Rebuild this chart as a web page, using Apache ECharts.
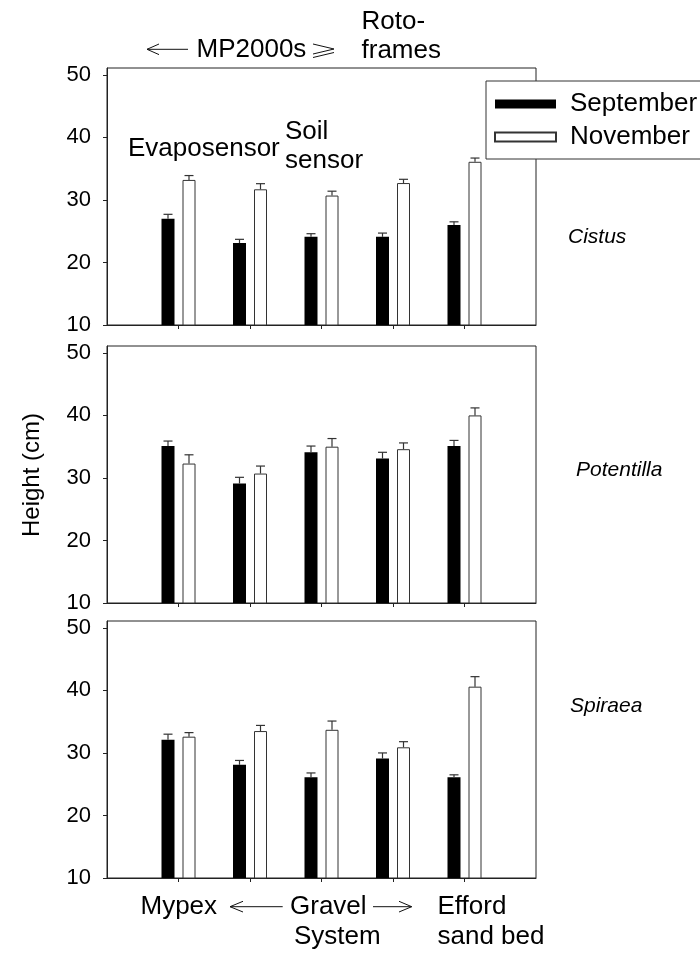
<!DOCTYPE html>
<html><head><meta charset="utf-8">
<script src="https://cdn.jsdelivr.net/npm/echarts@6/dist/echarts.min.js"></script>
<style>html,body{margin:0;padding:0;background:#fff}#c{width:700px;height:959px}</style>
</head><body><div id="c"></div><script>
// ---- data ----
const treatments = ['Mypex', 'Evaposensor', 'Soil sensor', 'Roto-frames', 'Efford sand bed'];
const categories = [''].concat(treatments, ['']);
const months = ['September', 'November'];
const yTicks = [10, 20, 30, 40, 50];
const species = ['Cistus', 'Potentilla', 'Spiraea'];

const cistusSep = [27.0, 23.1, 24.1, 24.1, 26.0];
const cistusSepErr = [0.7, 0.6, 0.5, 0.6, 0.5];
const cistusNov = [33.2, 31.7, 30.7, 32.7, 36.1];
const cistusNovErr = [0.7, 0.9, 0.7, 0.6, 0.6];

const potentillaSep = [35.1, 29.1, 34.1, 33.1, 35.1];
const potentillaSepErr = [0.8, 1.0, 1.0, 1.0, 0.9];
const potentillaNov = [32.3, 30.7, 35.0, 34.6, 40.0];
const potentillaNovErr = [1.4, 1.2, 1.3, 1.0, 1.2];

const spiraeaSep = [32.1, 28.1, 26.1, 29.1, 26.1];
const spiraeaSepErr = [0.9, 0.7, 0.7, 0.9, 0.4];
const spiraeaNov = [32.6, 33.5, 33.7, 30.9, 40.6];
const spiraeaNovErr = [0.65, 0.9, 1.4, 0.9, 1.6];

const panels = [
  {sep: cistusSep, sepErr: cistusSepErr, nov: cistusNov, novErr: cistusNovErr},
  {sep: potentillaSep, sepErr: potentillaSepErr, nov: potentillaNov, novErr: potentillaNovErr},
  {sep: spiraeaSep, sepErr: spiraeaSepErr, nov: spiraeaNov, novErr: spiraeaNovErr}
];

// ---- layout ----
const FONT = '"Liberation Sans", Arial, Helvetica, sans-serif';
const BAR_W = 13, GAP = 8, CAP = 9;
const OFFSET = (BAR_W + GAP) / 2;
const gridTops = [68, 346, 621];
const AX = '#222';

const pad = arr => [null].concat(arr, [null]);
const errData = (vals, errs) => vals.map((v, i) => [i + 1, v, errs[i]]);

function errRender(sign) {
  return function (params, api) {
    const x = api.value(0), v = api.value(1), e = api.value(2);
    const base = api.coord([x, v]);
    const top = api.coord([x, v + e]);
    const cx = base[0] + sign * OFFSET;
    const st = {stroke: '#333', lineWidth: 1.2};
    return {type: 'group', children: [
      {type: 'line', shape: {x1: cx, y1: base[1], x2: cx, y2: top[1]}, style: st},
      {type: 'line', shape: {x1: cx - CAP / 2, y1: top[1], x2: cx + CAP / 2, y2: top[1]}, style: st}
    ]};
  };
}

const grid = [], xAxis = [], yAxis = [], series = [];
panels.forEach((p, i) => {
  grid.push({left: 107, top: gridTops[i], width: 429, height: 257, show: true,
    borderColor: AX, borderWidth: 1, backgroundColor: 'transparent'});
  xAxis.push({type: 'category', gridIndex: i, data: categories, boundaryGap: false,
    axisLine: {show: true, lineStyle: {color: AX, width: 1}},
    axisTick: {show: true, length: 4, interval: (idx) => idx > 0 && idx < categories.length - 1,
      lineStyle: {color: AX, width: 1}},
    axisLabel: {show: false}, splitLine: {show: false}});
  yAxis.push({type: 'value', gridIndex: i, min: 10, max: 51.1,
    axisLine: {show: true, lineStyle: {color: AX, width: 1}},
    axisTick: {show: true, length: 4, customValues: yTicks, lineStyle: {color: AX, width: 1}},
    axisLabel: {show: true, customValues: yTicks, fontSize: 22, color: '#000', fontFamily: FONT, margin: 16},
    splitLine: {show: false}});
  series.push({name: months[0], type: 'bar', xAxisIndex: i, yAxisIndex: i, data: pad(p.sep),
    barWidth: BAR_W, barGap: (GAP / BAR_W * 100) + '%', itemStyle: {color: '#000'}, z: 2});
  series.push({name: months[1], type: 'bar', xAxisIndex: i, yAxisIndex: i, data: pad(p.nov),
    barWidth: BAR_W, barGap: (GAP / BAR_W * 100) + '%',
    itemStyle: {color: '#fff', borderColor: '#333', borderWidth: 1}, z: 2});
  series.push({name: 'sepErr' + i, type: 'custom', xAxisIndex: i, yAxisIndex: i,
    data: errData(p.sep, p.sepErr), encode: {x: 0, y: 1}, renderItem: errRender(-1), z: 3});
  series.push({name: 'novErr' + i, type: 'custom', xAxisIndex: i, yAxisIndex: i,
    data: errData(p.nov, p.novErr), encode: {x: 0, y: 1}, renderItem: errRender(1), z: 3});
});

function txt(t, x, y, size, extra) {
  return Object.assign({type: 'text', x: x, y: y, z: 10,
    style: Object.assign({text: t, fontSize: size, fontFamily: FONT, fill: '#000',
      align: 'left', verticalAlign: 'middle'}, extra || {})});
}
function pl(points) {
  return {type: 'polyline', z: 10, shape: {points: points}, style: {stroke: '#111', lineWidth: 1, fill: null}};
}

const graphic = [
  // top annotations
  pl([[159, 44], [147, 49.3], [159, 54.6]]), pl([[147, 49.3], [188, 49.3]]),
  txt('MP2000s', 196.5, 50, 26),
  pl([[313, 44], [334, 49], [313, 54]]), pl([[313, 57.5], [334, 52.5]]),
  txt('Roto-', 361.5, 22.3, 26),
  txt('frames', 361.5, 50.6, 26),
  txt('Evaposensor', 128, 149, 26),
  txt('Soil', 285, 132.3, 26),
  txt('sensor', 285, 160.6, 26),
  // species
  txt(species[0], 568, 237, 21, {fontStyle: 'italic'}),
  txt(species[1], 576, 470, 21, {fontStyle: 'italic'}),
  txt(species[2], 570, 706, 21, {fontStyle: 'italic'}),
  // y title
  {type: 'text', x: 32, y: 475, rotation: Math.PI / 2, z: 10,
    style: {text: 'Height (cm)', fontSize: 24, fontFamily: FONT, fill: '#000', align: 'center', verticalAlign: 'middle'}},
  // bottom annotations
  txt('Mypex', 140.5, 907.3, 26),
  pl([[243, 901.3], [230, 906.7], [243, 912]]), pl([[230, 906.7], [282.7, 906.7]]),
  txt('Gravel', 290, 907.3, 26),
  pl([[373, 906.7], [411.7, 906.7]]), pl([[399, 901.3], [411.7, 906.7], [399, 912]]),
  txt('System', 294, 937, 26),
  txt('Efford', 437.5, 907.3, 26),
  txt('sand bed', 437.5, 937, 26)
];

const chart = echarts.init(document.getElementById('c'), null, {renderer: 'canvas'});
chart.setOption({
  animation: false,
  backgroundColor: '#fff',
  grid: grid, xAxis: xAxis, yAxis: yAxis, series: series,
  legend: {data: months, orient: 'vertical', left: 486, top: 81, icon: 'rect',
    itemWidth: 61, itemHeight: 9, itemGap: 7, padding: [10, 12, 9, 8],
    backgroundColor: '#fff', borderColor: '#333', borderWidth: 1, borderRadius: 0,
    textStyle: {fontSize: 26, fontFamily: FONT, color: '#000', lineHeight: 26, padding: [0, 0, 0, 9]},
    selectedMode: false, z: 5},
  graphic: graphic
});
</script></body></html>
